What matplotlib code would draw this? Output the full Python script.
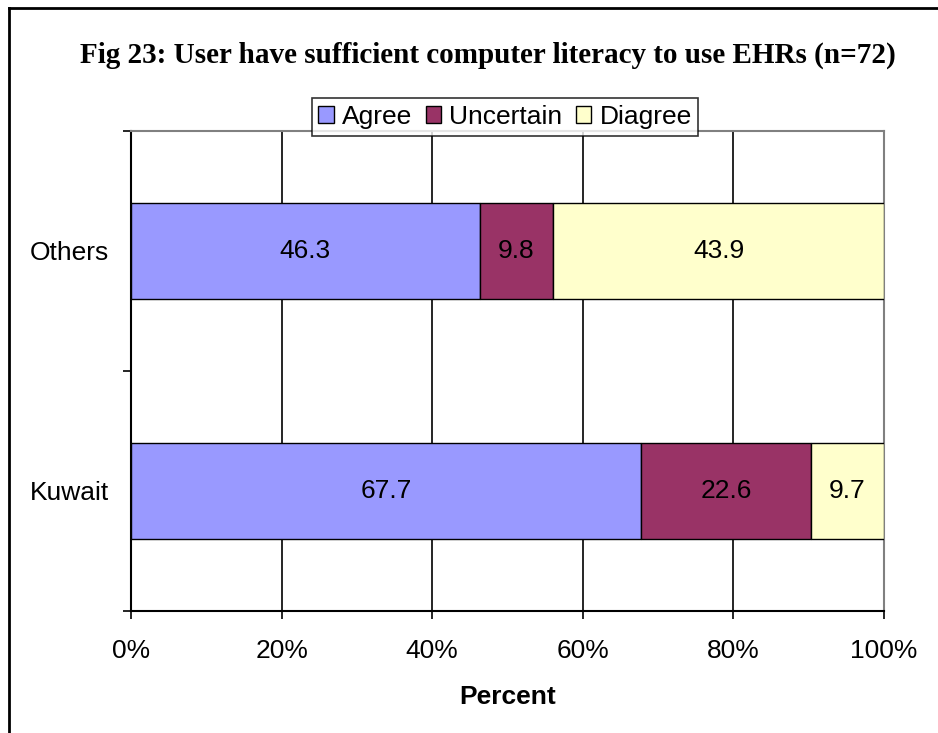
import numpy as np
import matplotlib.pyplot as plt
from matplotlib.lines import Line2D

# data
groups = ['Kuwait', 'Others']
series = ['Agree', 'Uncertain', 'Diagree']
agree = [67.7, 46.3]
uncertain = [22.6, 9.8]
disagree = [9.7, 43.9]
colors = ['#9999FF', '#993366', '#FFFFCC']

plt.rcParams['font.family'] = ['Liberation Sans', 'DejaVu Sans']
fs = 19

fig = plt.figure(figsize=(9.38, 7.33), dpi=100)
ax = fig.add_axes([131/938, 1 - 611/733, 753/938, 480/733])

y = np.arange(len(groups))
left = np.zeros(len(groups))
for name, vals, c in zip(series, [agree, uncertain, disagree], colors):
    vals = np.array(vals)
    ax.barh(y, vals, left=left, height=0.4, color=c, edgecolor='black',
            linewidth=1, label=name, zorder=3)
    for yi, l, v in zip(y, left, vals):
        ax.text(l + v / 2, yi, f'{v:.1f}', ha='center', va='center',
                fontsize=fs, color='black', zorder=4)
    left += vals

ax.set_xlim(0, 100)
ax.set_ylim(-0.5, 1.5)
ax.set_xticks(np.arange(0, 101, 20))
ax.set_xticklabels([f'{t}%' for t in range(0, 101, 20)], fontsize=fs)
ax.set_yticks(y)
ax.set_yticklabels(groups, fontsize=fs)
ax.tick_params(axis='y', length=0, pad=16)
ax.set_yticks([-0.5, 0.5, 1.5], minor=True)
ax.tick_params(axis='y', which='minor', length=6, width=1.2, direction='out')
ax.tick_params(axis='x', length=6, width=1.2, direction='out', pad=14)
ax.xaxis.grid(True, color='black', linewidth=1.2, zorder=0)
ax.set_axisbelow(True)

for s in ['left', 'bottom']:
    ax.spines[s].set_color('black')
    ax.spines[s].set_linewidth(1.5)
for s in ['top', 'right']:
    ax.spines[s].set_color('#808080')
    ax.spines[s].set_linewidth(1.5)

ax.set_xlabel('Percent', fontsize=fs, fontweight='bold', labelpad=16)

fig.text(488/938, 1 - 55/733, 'Fig 23: User have sufficient computer literacy to use EHRs (n=72)',
         ha='center', va='center', fontsize=21, fontweight='bold',
         family=['Liberation Serif', 'DejaVu Serif'])

leg = ax.legend(loc='center', bbox_to_anchor=(505/938, 1 - 117/733),
                bbox_transform=fig.transFigure, ncol=3, fontsize=fs,
                frameon=True, fancybox=False, edgecolor='black',
                handlelength=0.6, handleheight=0.6, handletextpad=0.3,
                columnspacing=0.5, borderpad=0.25, borderaxespad=0)
leg.get_frame().set_linewidth(1.2)
leg.set_zorder(10)

# outer frame lines (top and left visible)
fig.add_artist(Line2D([9/938, 9/938], [0, 1 - 8/733], color='black', linewidth=2,
                      transform=fig.transFigure))
fig.add_artist(Line2D([9/938, 1], [1 - 8/733, 1 - 8/733], color='black', linewidth=2,
                      transform=fig.transFigure))

fig.savefig('out.png', dpi=100)
